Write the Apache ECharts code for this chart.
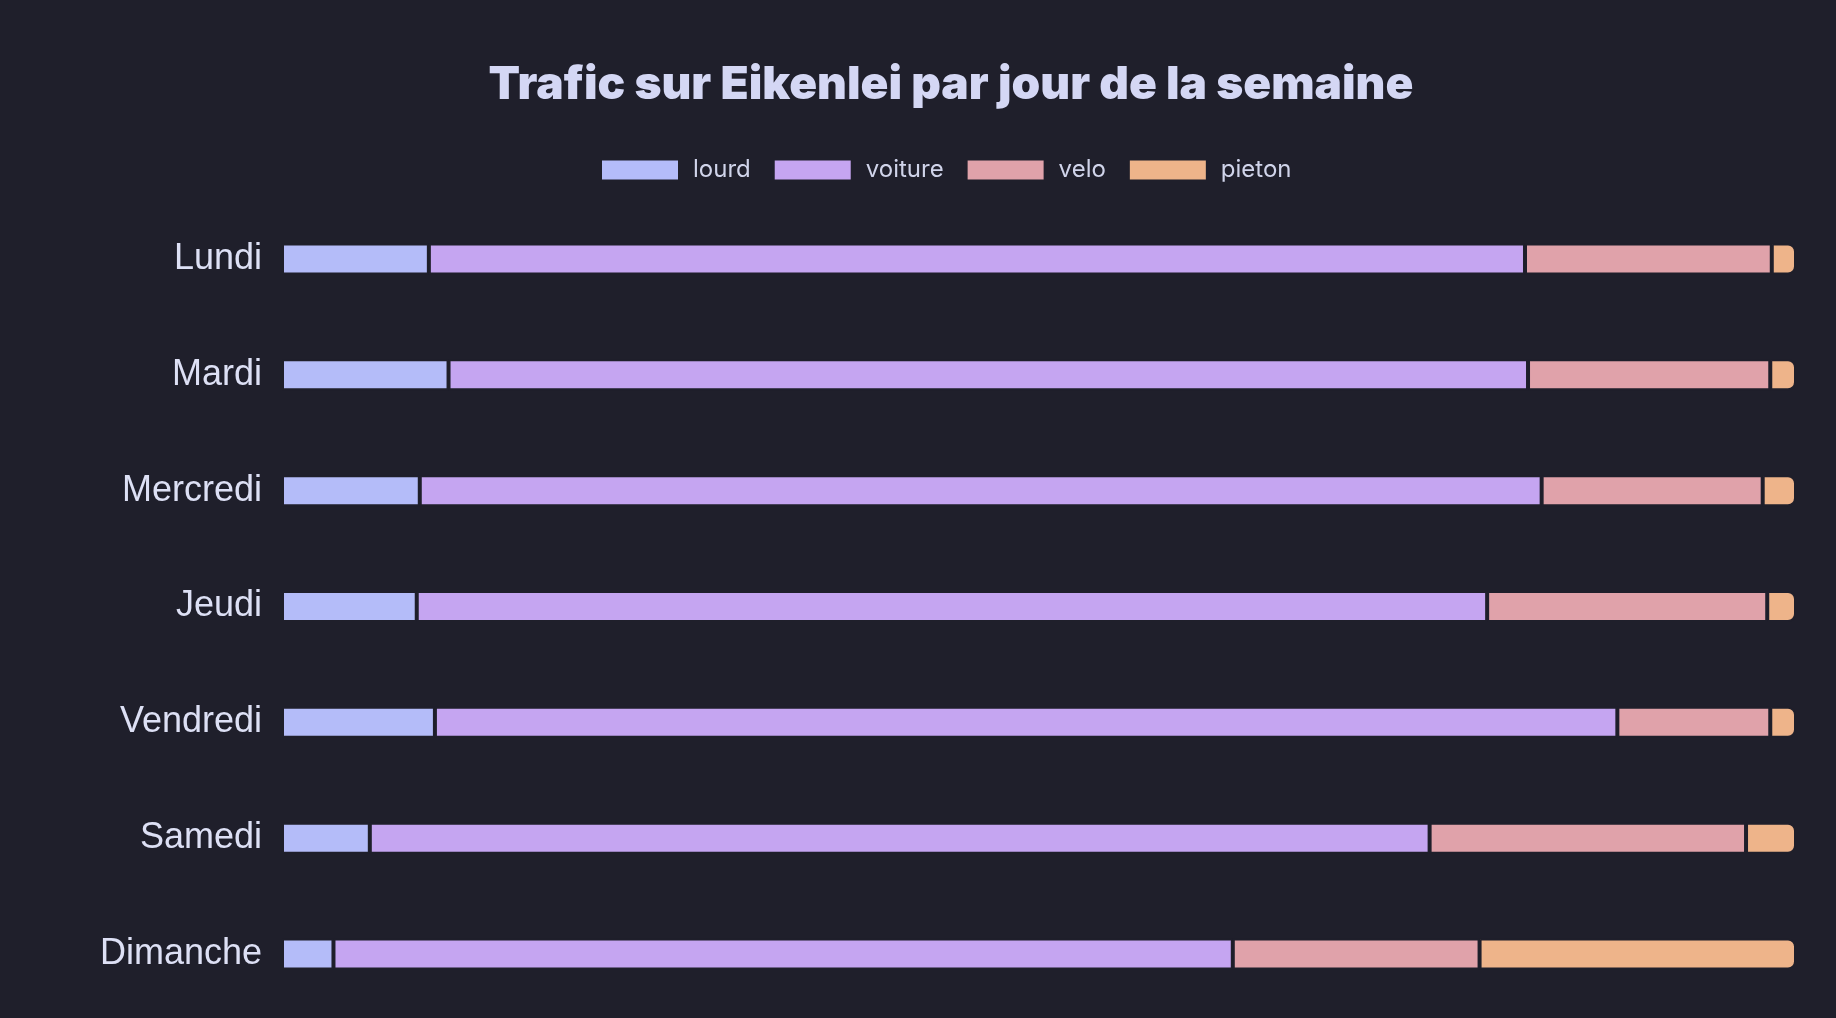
<!DOCTYPE html>
<html>
<head>
<meta charset="utf-8">
<script src="https://cdn.jsdelivr.net/npm/echarts@6/dist/echarts.min.js"></script>
<style>
  html, body { margin: 0; padding: 0; background: #1f1f2b; }
  #chart { width: 1836px; height: 1018px; }
</style>
</head>
<body>
<div id="chart"></div>
<script>
const days = ['Lundi', 'Mardi', 'Mercredi', 'Jeudi', 'Vendredi', 'Samedi', 'Dimanche'];
const lourd   = [9.7, 11.0, 9.1, 8.9, 10.1, 5.8, 3.4];
const voiture = [72.4, 71.3, 74.1, 70.7, 78.1, 70.0, 59.4];
const velo    = [16.3, 16.0, 14.6, 18.5, 10.1, 20.9, 16.3];
const pieton  = [1.6, 1.7, 2.2, 1.9, 1.7, 3.3, 20.9];

const BG = '#1f1f2b';
const colors = { lourd: '#b4bcf9', voiture: '#c5a5f1', velo: '#e0a2aa', pieton: '#eeb48a' };

function mk(name, data, last) {
  return {
    name: name,
    type: 'bar',
    stack: 'total',
    data: data,
    barWidth: 31,
    itemStyle: {
      color: colors[name],
      borderColor: BG,
      borderWidth: 2,
      borderRadius: last ? [0, 7, 7, 0] : 0
    },
    emphasis: { disabled: true }
  };
}

const chart = echarts.init(document.getElementById('chart'), null, { renderer: 'canvas' });
chart.setOption({
  backgroundColor: BG,
  animation: false,
  title: {
    text: 'Trafic sur Eikenlei par jour de la semaine',
    left: 946,
    textAlign: 'center',
    top: 57,
    textStyle: {
      color: '#d4d7f4',
      fontFamily: 'Inter',
      fontWeight: 900,
      fontSize: 46
    }
  },
  legend: {
    left: 602,
    top: 158,
    padding: 0,
    itemWidth: 76,
    itemHeight: 19,
    itemGap: 24,
    icon: 'rect',
    itemStyle: { borderWidth: 0 },
    textStyle: {
      color: '#d0d4ea',
      fontFamily: 'Inter',
      fontSize: 24,
      lineHeight: 23,
      padding: [0, 0, 0, 10]
    },
    data: ['lourd', 'voiture', 'velo', 'pieton']
  },
  grid: { left: 282, right: 40, top: 201, bottom: 6, containLabel: false },
  xAxis: {
    type: 'value',
    min: 0,
    max: 100,
    show: false
  },
  yAxis: {
    type: 'category',
    data: days,
    inverse: true,
    axisLine: { show: false },
    axisTick: { show: false },
    splitLine: { show: false },
    axisLabel: {
      color: '#dde0f5',
      fontFamily: 'Liberation Sans',
      fontSize: 36,
      margin: 20
    }
  },
  series: [
    mk('lourd', lourd, false),
    mk('voiture', voiture, false),
    mk('velo', velo, false),
    mk('pieton', pieton, true)
  ]
});
</script>
</body>
</html>
